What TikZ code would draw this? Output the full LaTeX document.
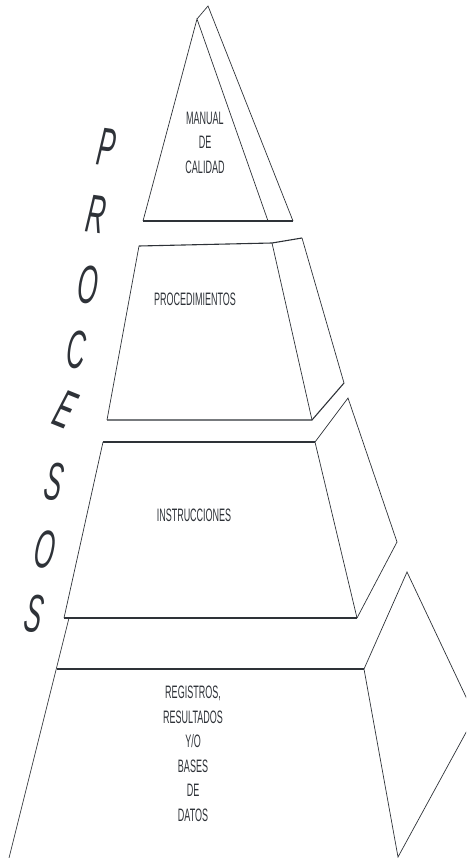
\documentclass[tikz,border=0pt]{standalone}
\usepackage{fontspec}
\setmainfont{Liberation Sans}
\usepackage{graphicx}
\definecolor{ink}{HTML}{2E3238}
\newcommand\sqz[2][0.5]{\scalebox{#1}[1]{\begin{tabular}{@{}c@{}}#2\end{tabular}}}
\newcommand\sql[1]{\scalebox{0.48}[1]{#1}}
\tikzset{
  edge/.style={draw=ink, line width=0.7pt, line join=miter},
  rim/.style={draw=ink, line width=1.1pt},
  lbl/.style={text=ink, font=\fontsize{18}{24.6}\selectfont, inner sep=0pt},
  letter/.style={text=ink, font=\fontsize{54}{54}\selectfont\itshape, inner sep=0pt},
}
\begin{document}
\begin{tikzpicture}[x=1pt,y=-1pt]
\useasboundingbox (0,0) rectangle (466,858);
\begin{scope}
\clip (0,0) rectangle (466,858);
% apex triangle
\coordinate (t1) at (197,19);
\coordinate (t2) at (208,6);
\coordinate (t3) at (293,221);
\coordinate (t4) at (268,221);
\coordinate (t5) at (143,221);
\draw[edge] (t5) -- (t1) -- (t4);
\draw[edge] (t1) -- (t2) -- (t3);
\draw[rim] (t5) -- (t3);
% procedimientos
\coordinate (p1) at (139,246);
\coordinate (p2) at (272,243);
\coordinate (p3) at (312,420);
\coordinate (p4) at (107,420);
\coordinate (s1) at (302,238);
\coordinate (s2) at (344,383);
\draw[rim] (p1) -- (p2) -- (s1);
\draw[edge] (p1) -- (p4);
\draw[edge] (p2) -- (p3);
\draw[edge] (s1) -- (s2);
\draw[rim] (p4) -- (p3) -- (s2);
% instrucciones
\coordinate (i1) at (103,442);
\coordinate (i2) at (315,442);
\coordinate (i3) at (357,618);
\coordinate (i4) at (64,618);
\coordinate (j1) at (348,398);
\coordinate (j2) at (397,542);
\draw[rim] (i1) -- (i2);
\draw[edge] (i2) -- (j1) -- (j2) -- (i3);
\draw[edge] (i1) -- (i4);
\draw[edge] (i2) -- (i3);
\draw[rim] (i4) -- (i3);
% base
\coordinate (b0) at (69,618);
\coordinate (bL) at (6,870);
\coordinate (b1) at (57,669);
\coordinate (b2) at (364,669);
\coordinate (b3) at (407,572);
\coordinate (b4) at (475,716);
\coordinate (b5) at (398,857);
\draw[edge] (b0) -- (bL);
\draw[rim] (b1) -- (b2);
\draw[edge] (b2) -- (b3) -- (b4) -- (b5) -- (b2);
\end{scope}
% labels
\node[lbl] (manual) at (205,144) {\sqz{MANUAL\\DE\\CALIDAD}};
\node[lbl] (proc) at (195,301) {\sqz{PROCEDIMIENTOS}};
\node[lbl] (instr) at (194,517) {\sqz{INSTRUCCIONES}};
\node[lbl] (reg) at (193,755) {\sqz{REGISTROS,\\RESULTADOS\\Y/O\\BASES\\DE\\DATOS}};
% PROCESOS
\node[letter, rotate=-8] (l1) at (107,147) {\sql{P}};
\node[letter, rotate=-8] (l2) at (96,214) {\sql{R}};
\node[letter, rotate=-5] (l3) at (88,285) {\sql{O}};
\node[letter, rotate=-5] (l4) at (76,350) {\sql{C}};
\node[letter, rotate=-22] (l5) at (65,410) {\sql{E}};
\node[letter, rotate=-10] (l6) at (54,482) {\sql{S}};
\node[letter, rotate=-8] (l7) at (45,549) {\sql{O}};
\node[letter, rotate=-10] (l8) at (34,614) {\sql{S}};
\end{tikzpicture}
\end{document}
